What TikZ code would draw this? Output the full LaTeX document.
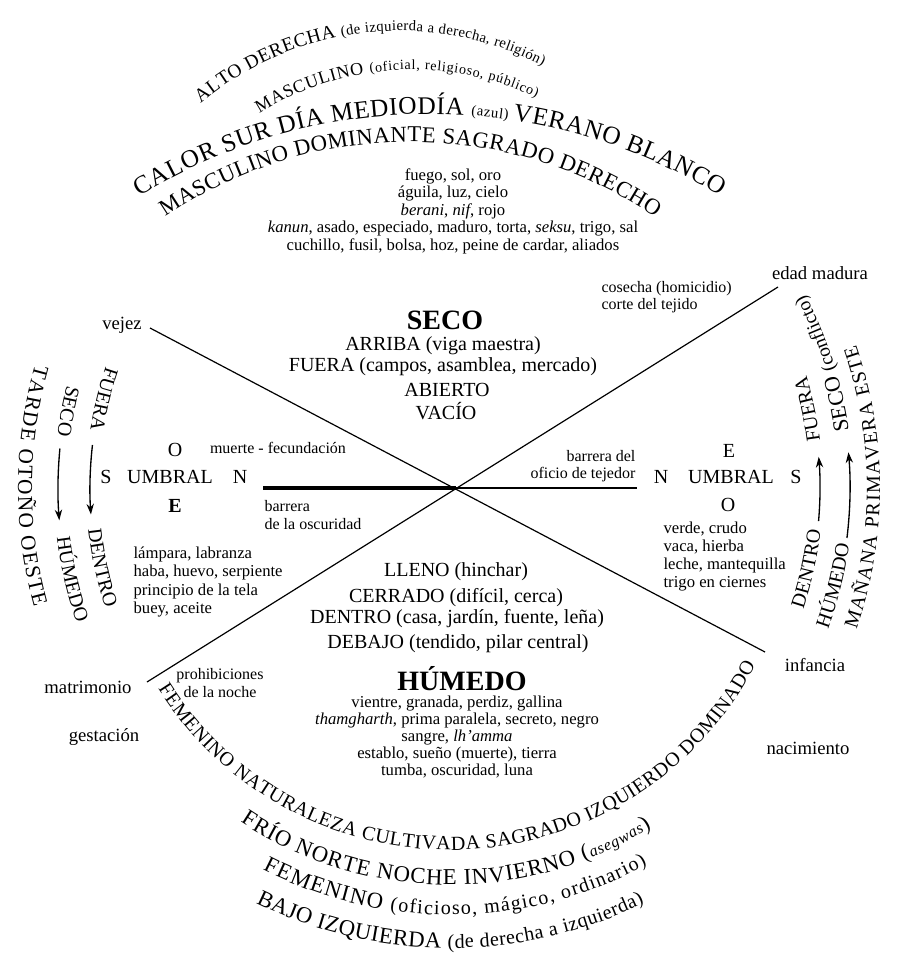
\documentclass[tikz,border=0pt]{standalone}
\usepackage{fontspec}
\setmainfont{Liberation Serif}
\usetikzlibrary{decorations.text,arrows.meta}

\tikzset{every picture/.style={line width=0.9pt}}
\tikzset{
  fitarc/.style={decorate,decoration={text along path,text align=fit to path,text={#1}}},
  midarc/.style={decorate,decoration={text along path,text align=center,text={#1}}},
  bigword/.style={inner sep=0.75pt,font=\fontsize{21}{24}\selectfont\bfseries},
  phrase/.style={inner sep=0.75pt,font=\fontsize{15}{18}\selectfont},
  listtext/.style={inner sep=0.75pt,align=center,font=\fontsize{12.5}{13.1}\selectfont},
  stagetext/.style={inner sep=0.75pt,font=\fontsize{14}{16}\selectfont},
  notetext/.style={inner sep=0.75pt,font=\fontsize{12}{13.2}\selectfont},
  compass/.style={inner sep=0.75pt,font=\fontsize{15}{16}\selectfont},
  flow/.style={-{Stealth[length=8pt,width=5.5pt]},line width=1pt},
}

\begin{document}
\begin{tikzpicture}[x=0.75pt,y=-0.75pt]
\useasboundingbox (0,0) rectangle (896,970);

% Centres of the circles
\coordinate (cross) at (456,488);
\coordinate (south) at (450,505);
\coordinate (west) at (470,488);
\coordinate (east) at (440,488);

% Arc Text (top)
\path[fitarc={|\fontsize{14.5}{14.5}\selectfont|ALTO DERECHA |\fontsize{11}{11}\selectfont|(de izquierda a derecha, religión)}] (399.6,340.1) ++(-130:309.3) arc[start angle=-130,end angle=-62.5,radius=309.3];
\path[fitarc={|\fontsize{13.5}{13.5}\selectfont|MASCULINO |\fontsize{10.5}{10.5}\selectfont|(oficial, religioso, público)}] (412.1,357.9) ++(-122:288.2) arc[start angle=-122,end angle=-64.5,radius=288.2];
\path[fitarc={|\fontsize{19}{19}\selectfont|CALOR SUR DÍA MEDIODÍA |\fontsize{11}{11}\selectfont|(azul) |\fontsize{19}{19}\selectfont|VERANO BLANCO}] (430,668) ++(-121.6:554) arc[start angle=-121.6,end angle=-58.4,radius=554];
\path[fitarc={|\fontsize{17}{17}\selectfont|MASCULINO DOMINANTE SAGRADO DERECHO}] (410,580) ++(-124:438) arc[start angle=-124,end angle=-56,radius=438];

% Arc Text (bottom)
\path[fitarc={|\fontsize{15}{15}\selectfont|FEMENINO NATURALEZA CULTIVADA SAGRADO IZQUIERDO DOMINADO}] (south) ++(147.8:345) arc[start angle=147.8,end angle=27.7,radius=345];
\path[fitarc={|\fontsize{17}{17}\selectfont|FRÍO NORTE NOCHE INVIERNO (|\fontsize{12}{12}\selectfont\itshape|asegwas|\fontsize{17}{17}\selectfont|)}] (south) ++(123.5:380) arc[start angle=123.5,end angle=58,radius=380];
\path[fitarc={|\fontsize{17}{17}\selectfont|FEMENINO |\fontsize{15}{15}\selectfont|(oficioso, mágico, ordinario)}] (south) ++(117.2:410) arc[start angle=117.2,end angle=61.3,radius=410];
\path[fitarc={|\fontsize{17}{17}\selectfont|BAJO IZQUIERDA |\fontsize{15}{15}\selectfont|(de derecha a izquierda)}] (south) ++(116:443) arc[start angle=116,end angle=64,radius=443];

% Arc Text (west)
\path[fitarc={|\fontsize{16}{16}\selectfont|TARDE OTOÑO OESTE}] (west) ++(195.8:452) arc[start angle=195.8,end angle=164.7,radius=452];
\path[midarc={|\fontsize{15}{15}\selectfont|SECO}] (west) ++(205.8:416) arc[start angle=205.8,end angle=175.8,radius=416];
\path[midarc={|\fontsize{15}{15}\selectfont|HÚMEDO}] (west) ++(182.1:416) arc[start angle=182.1,end angle=152.1,radius=416];
\path[midarc={|\fontsize{15}{15}\selectfont|FUERA}] (west) ++(208.6:384) arc[start angle=208.6,end angle=178.6,radius=384];
\path[midarc={|\fontsize{15}{15}\selectfont|DENTRO}] (west) ++(182.8:384) arc[start angle=182.8,end angle=152.8,radius=384];
% Connection
\draw[flow] (west) ++(185.5:412) arc[start angle=185.5,end angle=175.5,radius=412];
\draw[flow] (west) ++(186.5:380) arc[start angle=186.5,end angle=176,radius=380];

% Arc Text (east)
\path[fitarc={|\fontsize{15}{15}\selectfont|MAÑANA PRIMAVERA ESTE}] (east) ++(18.8:440) arc[start angle=18.8,end angle=-19,radius=440];
\path[midarc={|\fontsize{15}{15}\selectfont|DENTRO}] (east) ++(27.4:383) arc[start angle=27.4,end angle=-2.6,radius=383];
\path[midarc={|\fontsize{15}{15}\selectfont|FUERA}] (east) ++(2.9:383) arc[start angle=2.9,end angle=-27.1,radius=383];
\path[midarc={|\fontsize{15}{15}\selectfont|HÚMEDO}] (east) ++(28.9:413) arc[start angle=28.9,end angle=-1.1,radius=413];
\path[midarc={|\fontsize{16.5}{16.5}\selectfont|SECO |\fontsize{14.5}{14.5}\selectfont|(conflicto)}] (east) ++(3:413) arc[start angle=3,end angle=-39,radius=413];
% Connection
\draw[flow] (east) ++(5:380) arc[start angle=5,end angle=-4.7,radius=380];
\draw[flow] (east) ++(7:410) arc[start angle=7,end angle=-5,radius=410];

% The cross
\coordinate (vejezEnd) at (150,328);
\coordinate (infanciaEnd) at (765,652);
\coordinate (maduraEnd) at (778,287);
\coordinate (matrimonioEnd) at (147,682);
\coordinate (barL) at (263,488);
\coordinate (barR) at (637,488);
\draw (vejezEnd) -- (infanciaEnd);
\draw (maduraEnd) -- (matrimonioEnd);
\draw[line width=2.3pt] (barL) -- (cross);
\draw[line width=1.5pt] (cross) -- (barR);

% Text Node (ages)
\node[stagetext] (vejez) at (122,325) {vejez};
\node[stagetext] (madura) at (820,273) {edad madura};
\node[stagetext] (infancia) at (815,665) {infancia};
\node[stagetext] (nacimiento) at (808,748) {nacimiento};
\node[stagetext] (matrimonio) at (88,687) {matrimonio};
\node[stagetext] (gestacion) at (104,737) {gestación};

% Text Node (notes)
\node[notetext,align=center] (prohib) at (220,683) {prohibiciones\\de la noche};
\node[notetext,align=left,anchor=west] (cosecha) at (600,297) {cosecha (homicidio)\\corte del tejido};
\node[notetext,align=right,anchor=east] (oficio) at (637,466) {barrera del\\oficio de tejedor};
\node[notetext,align=left,anchor=west] (oscuridad) at (263,515) {barrera\\de la oscuridad};
\node[notetext] (muerte) at (278,448) {muerte - fecundación};

% Text Node (thresholds)
\node[compass] (wO) at (175,450) {O};
\node[compass] (wS) at (106,477) {S};
\node[compass] (wUmbral) at (170,477) {UMBRAL};
\node[compass] (wN) at (240,477) {N};
\node[compass,font=\fontsize{15}{16}\selectfont\bfseries] (wE) at (175,506) {E};
\node[compass] (eE) at (729,451) {E};
\node[compass] (eN) at (661,477) {N};
\node[compass] (eUmbral) at (731,477) {UMBRAL};
\node[compass] (eS) at (796,477) {S};
\node[compass] (eO) at (728,505) {O};

% Text Node (upper half)
\node[bigword] (seco) at (445,320) {SECO};
\node[phrase] (arriba) at (443,346) {ARRIBA (viga maestra)};
\node[phrase] (fuera) at (443,367) {FUERA (campos, asamblea, mercado)};
\node[phrase] (abierto) at (447,390) {ABIERTO};
\node[phrase] (vacio) at (446,411) {VACÍO};
\node[listtext] (secoList) at (453,211) {fuego, sol, oro\\águila, luz, cielo\\\textit{berani}, \textit{nif}, rojo\\\textit{kanun}, asado, especiado, maduro, torta, \textit{seksu}, trigo, sal\\cuchillo, fusil, bolsa, hoz, peine de cardar, aliados};

% Text Node (lower half)
\node[phrase] (lleno) at (456,572) {LLENO (hinchar)};
\node[phrase] (cerrado) at (456,598) {CERRADO (difícil, cerca)};
\node[phrase] (dentro) at (457,619) {DENTRO (casa, jardín, fuente, leña)};
\node[phrase] (debajo) at (458,644) {DEBAJO (tendido, pilar central)};
\node[bigword] (humedo) at (462,679) {HÚMEDO};
\node[listtext,font=\fontsize{12.5}{12.6}\selectfont] (humedoList) at (457,737) {vientre, granada, perdiz, gallina\\\textit{thamgharth}, prima paralela, secreto, negro\\sangre, \textit{lh'amma}\\establo, sueño (muerte), tierra\\tumba, oscuridad, luna};

% Text Node (side lists)
\node[listtext,align=left,anchor=west,font=\fontsize{12.5}{13.7}\selectfont] (westList) at (132,582) {lámpara, labranza\\haba, huevo, serpiente\\principio de la tela\\buey, aceite};
\node[listtext,align=left,anchor=west,font=\fontsize{12.5}{13.5}\selectfont] (eastList) at (662,557) {verde, crudo\\vaca, hierba\\leche, mantequilla\\trigo en ciernes};

\end{tikzpicture}
\end{document}
